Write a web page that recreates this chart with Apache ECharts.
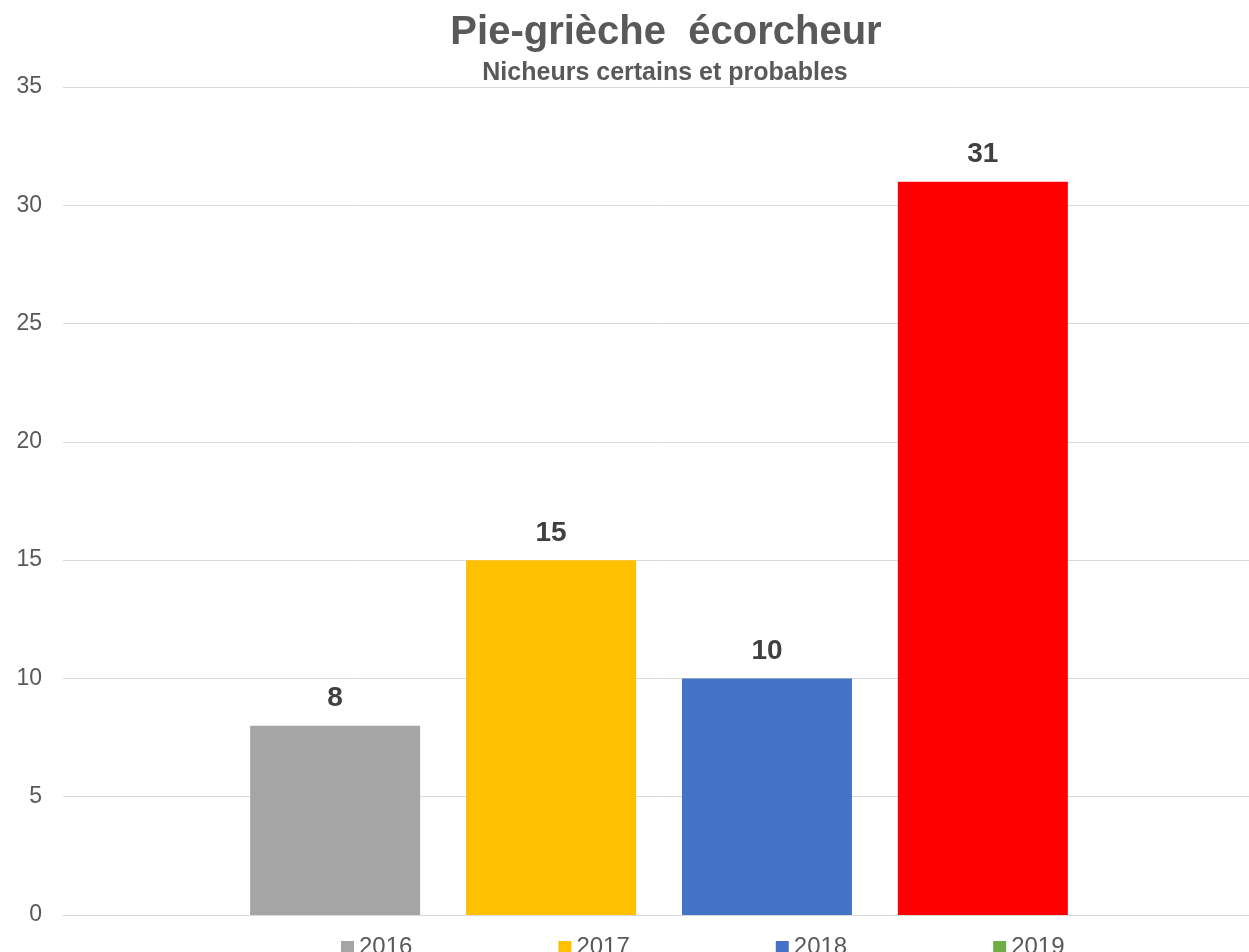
<!DOCTYPE html>
<html>
<head>
<meta charset="utf-8">
<script src="https://cdn.jsdelivr.net/npm/echarts@6/dist/echarts.min.js"></script>
<style>
html,body{margin:0;padding:0;background:#fff;}
#chart{width:1249px;height:952px;}
</style>
</head>
<body>
<div id="chart"></div>
<script>
const categories = [''];
const seriesNames = ['2016', '2017', '2018', '2019'];
const values2016 = [8];
const values2017 = [15];
const values2018 = [10];
const values2019 = [31];
const yTicks = { min: 0, max: 35, interval: 5 };

const barColors = ['#A5A5A5', '#FFC000', '#4472C4', '#FF0000'];
const legendColors = ['#A5A5A5', '#FFC000', '#4472C4', '#70AD47'];
const allValues = [values2016, values2017, values2018, values2019];

const font = "'Liberation Sans', Arial, sans-serif";

const chart = echarts.init(document.getElementById('chart'), null, { renderer: 'canvas' });

const series = seriesNames.map((name, i) => ({
  name: name,
  type: 'bar',
  data: allValues[i],
  barWidth: 170,
  barGap: '27%',
  itemStyle: { color: barColors[i] },
  label: {
    show: true,
    position: 'top',
    distance: 13,
    fontFamily: font,
    fontSize: 28,
    fontWeight: 'bold',
    color: '#404040'
  },
  emphasis: { disabled: true }
}));

chart.setOption({
  animation: false,
  backgroundColor: '#ffffff',
  title: [
    {
      text: 'Pie-grièche  écorcheur',
      left: 661,
      top: 8,
      textAlign: 'center',
      textStyle: { fontFamily: font, fontSize: 40, fontWeight: 'bold', color: '#595959' }
    },
    {
      text: 'Nicheurs certains et probables',
      left: 660,
      top: 56,
      textAlign: 'center',
      textStyle: { fontFamily: font, fontSize: 25, fontWeight: 'bold', color: '#595959' }
    }
  ],
  legend: {
    data: seriesNames.map((n, i) => ({ name: n, itemStyle: { color: legendColors[i] } })),
    left: 336,
    top: 930,
    orient: 'horizontal',
    icon: 'rect',
    itemWidth: 13,
    itemHeight: 12,
    itemGap: 146,
    textStyle: { fontFamily: font, fontSize: 24, color: '#595959', padding: [0, 0, 0, 0] }
  },
  grid: { left: 63, top: 87, width: 1192, height: 828, containLabel: false, outerBoundsMode: 'none' },
  xAxis: {
    type: 'category',
    data: categories,
    axisLine: { show: true, lineStyle: { color: '#D9D9D9', width: 1 } },
    axisTick: { show: false },
    axisLabel: { show: false },
    splitLine: { show: false }
  },
  yAxis: {
    type: 'value',
    min: yTicks.min,
    max: yTicks.max,
    interval: yTicks.interval,
    axisLine: { show: false },
    axisTick: { show: false },
    axisLabel: { fontFamily: font, fontSize: 23, color: '#595959', margin: 21 },
    splitLine: { show: true, lineStyle: { color: '#D9D9D9', width: 1 } }
  },
  series: series
});
</script>
</body>
</html>
